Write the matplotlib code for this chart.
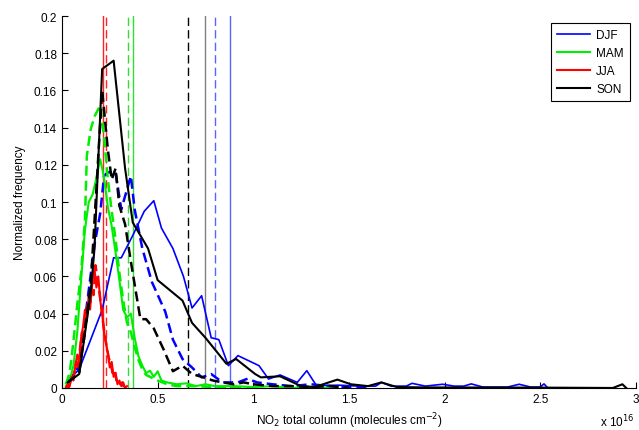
import matplotlib
matplotlib.use("Agg")
import matplotlib.pyplot as plt

plt.rcParams['font.family'] = ['Liberation Sans', 'DejaVu Sans']

# x in units of 1e16 molecules cm^-2
seasons = ['DJF', 'MAM', 'JJA', 'SON']
colors = {'DJF': '#0000ff', 'MAM': '#00ee00', 'JJA': '#ff0000', 'SON': '#000000'}

# DJF
djf_x = [0.03, 0.09, 0.21, 0.27, 0.31, 0.37, 0.43, 0.48, 0.52, 0.58, 0.635, 0.68, 0.73, 0.78, 0.82,
         0.87, 0.92, 1.03, 1.08, 1.14, 1.23, 1.28, 1.33, 1.45, 1.55, 1.64, 1.67, 1.72, 1.8, 1.83,
         1.9, 1.99, 2.05, 2.1, 2.14, 2.2, 2.33, 2.39, 2.45, 2.5, 2.52, 2.54]
djf_y = [0.004, 0.010, 0.042, 0.070, 0.070, 0.082, 0.095, 0.1007, 0.086, 0.075, 0.060, 0.043, 0.0496,
         0.027, 0.026, 0.012, 0.0174, 0.012, 0.0048, 0.007, 0.003, 0.0093, 0.0013, 0.0015, 0.001,
         0.001, 0.003, 0.001, 0.001, 0.0025, 0.001, 0.002, 0.001, 0.001, 0.0022, 0.0005, 0.0005,
         0.002, 0.0005, 0.0005, 0.0022, 0.0]
djf_dx = [0.03, 0.09, 0.17, 0.20, 0.22, 0.24, 0.28, 0.31, 0.36, 0.38, 0.42, 0.47, 0.54, 0.58, 0.63,
          0.68, 0.73, 0.78, 0.84, 0.92, 0.97, 1.02, 1.1, 1.2, 1.3, 1.4, 1.5, 1.6]
djf_dy = [0.003, 0.012, 0.077, 0.094, 0.114, 0.116, 0.116, 0.096, 0.114, 0.096, 0.075, 0.057, 0.041,
          0.026, 0.0156, 0.011, 0.0057, 0.0075, 0.003, 0.003, 0.005, 0.003, 0.002, 0.001, 0.002,
          0.001, 0.0005, 0.0]

# MAM
mam_x = [0.02, 0.04, 0.06, 0.08, 0.10, 0.12, 0.14, 0.16, 0.18, 0.20, 0.22, 0.24, 0.26, 0.28, 0.30,
         0.32, 0.34, 0.36, 0.38, 0.40, 0.42, 0.44, 0.46, 0.48, 0.50, 0.52, 0.55, 0.60, 0.65, 0.70,
         0.75, 0.80, 0.90, 1.00, 1.10, 1.20, 1.30, 1.40]
mam_y = [0.001, 0.004, 0.012, 0.030, 0.058, 0.085, 0.100, 0.104, 0.113, 0.123, 0.113, 0.097, 0.087,
         0.073, 0.058, 0.042, 0.038, 0.040, 0.027, 0.017, 0.012, 0.008, 0.0093, 0.006, 0.009, 0.004,
         0.003, 0.002, 0.0025, 0.001, 0.002, 0.001, 0.001, 0.0005, 0.001, 0.0, 0.0005, 0.0]
mam_dx = [0.02, 0.04, 0.06, 0.08, 0.10, 0.12, 0.13, 0.15, 0.17, 0.20, 0.22, 0.24, 0.26, 0.28, 0.30,
          0.32, 0.34, 0.36, 0.38, 0.40, 0.42, 0.44, 0.46, 0.50, 0.55, 0.60, 0.70, 0.80, 0.90, 1.0]
mam_dy = [0.002, 0.008, 0.025, 0.045, 0.062, 0.090, 0.125, 0.139, 0.146, 0.152, 0.135, 0.112, 0.095,
          0.080, 0.062, 0.047, 0.035, 0.030, 0.022, 0.015, 0.010, 0.007, 0.006, 0.004, 0.002, 0.001,
          0.001, 0.0005, 0.0005, 0.0]

# JJA
jja_x = [0.02, 0.03, 0.04, 0.05, 0.06, 0.07, 0.08, 0.09, 0.10, 0.11, 0.12, 0.13, 0.14, 0.15, 0.16,
         0.17, 0.18, 0.19, 0.20, 0.21, 0.22, 0.23, 0.24, 0.25, 0.26, 0.27, 0.28, 0.29, 0.30, 0.31,
         0.32, 0.33, 0.34]
jja_y = [0.000, 0.002, 0.001, 0.006, 0.004, 0.012, 0.018, 0.014, 0.027, 0.033, 0.042, 0.036, 0.050,
         0.046, 0.058, 0.064, 0.054, 0.060, 0.047, 0.040, 0.030, 0.024, 0.019, 0.011, 0.014, 0.006,
         0.008, 0.002, 0.004, 0.001, 0.003, 0.000, 0.001]
jja_dx = [0.025, 0.035, 0.045, 0.055, 0.065, 0.075, 0.085, 0.095, 0.105, 0.115, 0.125, 0.135, 0.145,
          0.155, 0.165, 0.175, 0.185, 0.195, 0.205, 0.215, 0.225, 0.235, 0.245, 0.255, 0.265, 0.275,
          0.285, 0.295, 0.305, 0.315, 0.325]
jja_dy = [0.001, 0.000, 0.004, 0.003, 0.009, 0.014, 0.010, 0.022, 0.030, 0.025, 0.039, 0.045, 0.041,
          0.055, 0.050, 0.066, 0.059, 0.052, 0.044, 0.035, 0.028, 0.021, 0.016, 0.013, 0.008, 0.010,
          0.004, 0.005, 0.002, 0.003, 0.000]

# SON
son_x = [0.03, 0.09, 0.15, 0.17, 0.21, 0.27, 0.33, 0.37, 0.45, 0.50, 0.63, 0.68, 0.75, 0.86, 0.91,
         1.01, 1.04, 1.14, 1.25, 1.32, 1.44, 1.51, 1.60, 1.67, 1.75, 1.90, 2.50, 2.88, 2.93, 2.95]
son_y = [0.003, 0.0075, 0.051, 0.075, 0.1715, 0.176, 0.118, 0.089, 0.075, 0.058, 0.047, 0.035, 0.027,
         0.013, 0.0156, 0.0075, 0.0057, 0.0063, 0.001, 0.0005, 0.0045, 0.002, 0.001, 0.003, 0.0005,
         0.0003, 0.0002, 0.0, 0.002, 0.0]
son_dx = [0.03, 0.09, 0.15, 0.21, 0.24, 0.26, 0.28, 0.30, 0.33, 0.36, 0.41, 0.44, 0.48, 0.53, 0.58,
          0.63, 0.68, 0.73, 0.79, 0.84, 0.90, 0.95, 1.00, 1.10, 1.20, 1.30, 1.40, 1.50]
son_dy = [0.003, 0.008, 0.055, 0.160, 0.128, 0.112, 0.118, 0.098, 0.088, 0.068, 0.037, 0.037, 0.032,
          0.021, 0.009, 0.012, 0.0075, 0.006, 0.004, 0.003, 0.002, 0.003, 0.002, 0.001, 0.001, 0.0005,
          0.001, 0.0]

# mean values (vertical lines)
mean_solid = {'DJF': 0.88, 'MAM': 0.373, 'JJA': 0.213, 'SON': 0.749}
mean_dash = {'DJF': 0.80, 'MAM': 0.344, 'JJA': 0.230, 'SON': 0.661}
vline_col = {'DJF': '#5566ff', 'MAM': '#33dd33', 'JJA': '#ff2222', 'SON': '#808080'}
vline_dcol = {'DJF': '#5566ff', 'MAM': '#33dd33', 'JJA': '#ff2222', 'SON': '#000000'}

solid = {'DJF': (djf_x, djf_y), 'MAM': (mam_x, mam_y), 'JJA': (jja_x, jja_y), 'SON': (son_x, son_y)}
dashed = {'DJF': (djf_dx, djf_dy), 'MAM': (mam_dx, mam_dy), 'JJA': (jja_dx, jja_dy), 'SON': (son_dx, son_dy)}

fig = plt.figure(figsize=(6.39, 4.31), dpi=100)
ax = fig.add_axes([0.097, 0.0975, 0.898, 0.863])

for s in seasons:
    ax.axvline(mean_solid[s], color=vline_col[s], lw=1.0)
    ax.axvline(mean_dash[s], color=vline_dcol[s], lw=1.0, ls=(0, (6, 3)))

handles = []
for s in seasons:
    lw = 1.2 if s == 'DJF' else 1.5
    h, = ax.plot(*solid[s], color=colors[s], lw=lw, label=s)
    ax.plot(*dashed[s], color=colors[s], lw=1.8, ls=(0, (4, 2)))
    handles.append(h)

ax.set_xlim(0, 3)
ax.set_ylim(0, 0.2)
ax.set_xticks([0, 0.5, 1, 1.5, 2, 2.5, 3])
ax.set_xticklabels(['0', '0.5', '1', '1.5', '2', '2.5', '3'])
ax.set_yticks([0, 0.02, 0.04, 0.06, 0.08, 0.1, 0.12, 0.14, 0.16, 0.18, 0.2])
ax.set_yticklabels(['0', '0.02', '0.04', '0.06', '0.08', '0.1', '0.12', '0.14', '0.16', '0.18', '0.2'])
ax.tick_params(direction='in', length=4, labelsize=8.5, width=0.8)
ax.spines['top'].set_visible(False)
ax.spines['right'].set_visible(False)

ax.set_xlabel('NO$_2$ total column (molecules cm$^{-2}$)', fontsize=8.5, labelpad=4)
ax.set_ylabel('Normalized frequency', fontsize=8.5, labelpad=6)
fig.text(0.966, 0.022, 'x 10$^{16}$', fontsize=8.5, ha='center', va='center')

leg = ax.legend(handles=handles, loc='upper right', bbox_to_anchor=(0.9895, 0.981), fontsize=8.5,
                fancybox=False, framealpha=1, edgecolor='black', handlelength=2.8,
                borderpad=0.5, labelspacing=0.5, handletextpad=0.5, borderaxespad=0)
leg.get_frame().set_linewidth(0.8)

fig.savefig('out.png', dpi=100)
